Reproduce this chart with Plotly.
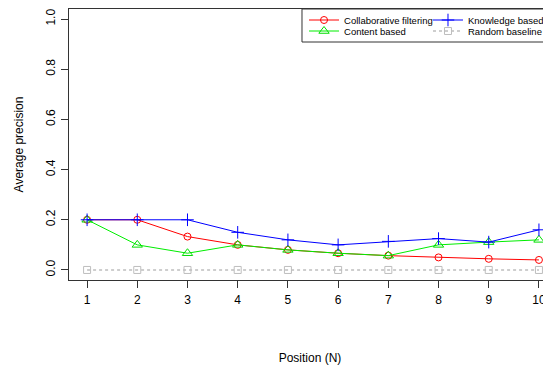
import plotly.graph_objects as go

positions = [1, 2, 3, 4, 5, 6, 7, 8, 9, 10]
collaborative = [0.2, 0.2, 0.133, 0.1, 0.08, 0.0667, 0.0571, 0.05, 0.0444, 0.04]
content = [0.2, 0.1, 0.0667, 0.1, 0.08, 0.0667, 0.0571, 0.1, 0.111, 0.12]
knowledge = [0.2, 0.2, 0.2, 0.15, 0.12, 0.1, 0.114, 0.125, 0.111, 0.16]
random_baseline = [0, 0, 0, 0, 0, 0, 0, 0, 0, 0]
y_ticks = [0.0, 0.2, 0.4, 0.6, 0.8, 1.0]

FONT = "Liberation Sans, Arial, sans-serif"
AX = "#333333"

fig = go.Figure()
fig.add_trace(go.Scatter(x=positions, y=random_baseline, name="Random baseline",
                         mode="lines+markers", legend="legend4",
                         line=dict(color="#BEBEBE", width=1.5, dash="3px,3px"),
                         marker=dict(symbol="square-open", size=7, color="#BEBEBE", line=dict(width=1))))
fig.add_trace(go.Scatter(x=positions, y=collaborative, name="Collaborative filtering",
                         mode="lines+markers", legend="legend",
                         line=dict(color="#FF0000", width=1),
                         marker=dict(symbol="circle-open", size=7, color="#FF0000", line=dict(width=1))))
fig.add_trace(go.Scatter(x=positions, y=content, name="Content based",
                         mode="lines+markers", legend="legend2",
                         line=dict(color="#00EE00", width=1),
                         marker=dict(symbol="triangle-up-open", size=9, color="#00DD00", line=dict(width=1))))
fig.add_trace(go.Scatter(x=positions, y=knowledge, name="Knowledge based",
                         mode="lines+markers", legend="legend3",
                         line=dict(color="#0000FF", width=1),
                         marker=dict(symbol="cross-thin-open", size=9, color="#0000FF", line=dict(width=1, color="#0000FF"))))

col1_x, col2_x = 0.4876, 0.7448
row1_y, row2_y = 0.9594, 0.9188
legend_common = dict(xanchor="left", yanchor="middle", orientation="v",
                     bgcolor="rgba(0,0,0,0)", borderwidth=0,
                     font=dict(family=FONT, size=9.5, color="black"), itemwidth=30)

fig.update_layout(
    width=543, height=363,
    margin=dict(l=61, r=0, t=1, b=91, autoexpand=False),
    paper_bgcolor="white", plot_bgcolor="white",
    font=dict(family=FONT, size=12, color="black"),
    showlegend=True,
    legend=dict(x=col1_x, y=row1_y, **legend_common),
    legend2=dict(x=col1_x, y=row2_y, **legend_common),
    legend3=dict(x=col2_x, y=row1_y, **legend_common),
    legend4=dict(x=col2_x, y=row2_y, **legend_common),
    shapes=[dict(type="rect", xref="paper", yref="paper", x0=0.4834, x1=1.05, y0=0.8782, y1=1.0,
                 line=dict(color="#333333", width=1), fillcolor="rgba(0,0,0,0)", layer="above")],
)
fig.update_xaxes(range=[0.64, 10.24], tickvals=positions, ticks="outside", ticklen=7,
                 tickcolor=AX, showline=True, linecolor=AX, linewidth=1, mirror=True,
                 showgrid=False, zeroline=False, automargin=False, ticklabelstandoff=2,
                 title=dict(text="Position (N)", standoff=47, font=dict(size=12)))
fig.update_yaxes(range=[-0.04, 1.04], tickvals=y_ticks, ticktext=[f"{v:.1f}" for v in y_ticks],
                 tickangle=-90, ticks="outside", ticklen=7, tickcolor=AX,
                 showline=True, linecolor=AX, linewidth=1, mirror=False,
                 showgrid=False, zeroline=False, automargin=False, ticklabelstandoff=1,
                 title=dict(text="Average precision", standoff=18, font=dict(size=12)))

fig.write_html("out.html")
